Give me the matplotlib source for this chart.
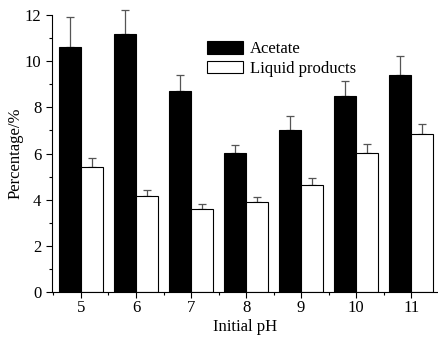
import numpy as np
import matplotlib
matplotlib.use('Agg')
import matplotlib.pyplot as plt
from matplotlib.ticker import MultipleLocator

plt.rcParams['font.family'] = ['Liberation Serif', 'DejaVu Serif']

ph = [5, 6, 7, 8, 9, 10, 11]
acetate = [10.6, 11.2, 8.72, 6.02, 7.02, 8.48, 9.42]
acetate_err = [1.3, 1.0, 0.7, 0.35, 0.6, 0.65, 0.8]
liquid = [5.4, 4.15, 3.62, 3.9, 4.62, 6.02, 6.85]
liquid_err = [0.4, 0.27, 0.2, 0.2, 0.3, 0.4, 0.45]

fig = plt.figure(figsize=(4.39, 3.42), dpi=100)
ax = fig.add_axes([0.118, 0.146, 0.880, 0.810])

x = np.array(ph, dtype=float)
w = 0.4
ax.bar(x - w / 2, acetate, w, color='black', edgecolor='black', linewidth=0.8,
       label='Acetate', zorder=2)
ax.bar(x + w / 2, liquid, w, color='white', edgecolor='black', linewidth=0.8,
       label='Liquid products', zorder=2)
for xs, ys, es in [(x - w / 2, acetate, acetate_err), (x + w / 2, liquid, liquid_err)]:
    eb = ax.errorbar(xs, ys, yerr=[np.zeros(len(x)), es], fmt='none',
                     ecolor='#555555', elinewidth=0.9, capsize=3, capthick=0.9, zorder=1)
    for art in eb.lines[1] + eb.lines[2]:
        art.set_clip_on(False)
    for art in eb.lines[2]:
        art.set_clip_on(False)

ax.set_xlim(4.47, 11.49)
ax.set_ylim(0, 12)
ax.set_xticks(ph)
ax.xaxis.set_minor_locator(MultipleLocator(0.5))
ax.yaxis.set_major_locator(MultipleLocator(2))
ax.yaxis.set_minor_locator(MultipleLocator(1))
ax.tick_params(which='major', direction='out', length=4, width=0.8, labelsize=12)
ax.tick_params(axis='x', which='major', pad=2)
ax.tick_params(which='minor', direction='out', length=2, width=0.8)

for s in ['top', 'right']:
    ax.spines[s].set_visible(False)

ax.set_xlabel('Initial pH', fontsize=12, labelpad=2)
ax.set_ylabel('Percentage/%', fontsize=12, labelpad=1)

ax.legend(loc='upper left', bbox_to_anchor=(0.385, 0.93), frameon=False, fontsize=12,
          handlelength=2.15, handleheight=0.8, handletextpad=0.4, labelspacing=0.2,
          borderaxespad=0)

fig.savefig('out.png', dpi=100)
